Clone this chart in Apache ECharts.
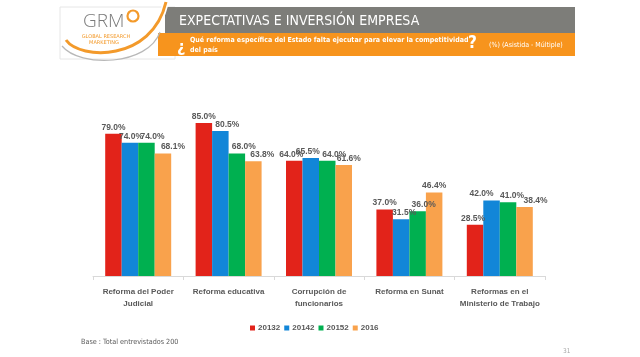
<!DOCTYPE html>
<html>
<head>
<meta charset="utf-8">
<script src="https://cdn.jsdelivr.net/npm/echarts@6/dist/echarts.min.js"></script>
<style>html,body{margin:0;padding:0;background:#fff;}#c{width:640px;height:357px;}</style>
</head>
<body>
<div id="c"></div>
<script>
const categories = ['Reforma del Poder\nJudicial', 'Reforma educativa', 'Corrupción de\nfuncionarios', 'Reforma en Sunat', 'Reformas en el\nMinisterio de Trabajo'];
const seriesNames = ['20132', '20142', '20152', '2016'];
const values2013 = [79.0, 85.0, 64.0, 37.0, 28.5];
const values2014 = [74.0, 80.5, 65.5, 31.5, 42.0];
const values2015 = [74.0, 68.0, 64.0, 36.0, 41.0];
const values2016 = [68.1, 63.8, 61.6, 46.4, 38.4];
const allValues = [values2013, values2014, values2015, values2016];

// label nudges (style only)
const labelDx = [
  [0, 0, -3, 0, -2],
  [1, 7, -3, 3, -10],
  [6, 7, 7, 6, 4],
  [10, 9, 5, 0, 11]
];
const colors = ['#e2231a', '#1286d8', '#00b050', '#f9a24c'];
const cond = "'DejaVu Sans Condensed', sans-serif";
const lib = "'Liberation Sans', Arial, sans-serif";

const chart = echarts.init(document.getElementById('c'), null, {renderer: 'canvas'});

const series = allValues.map((vals, i) => ({
  name: seriesNames[i],
  type: 'bar',
  barGap: '0%',
  barCategoryGap: '27%',
  itemStyle: {color: colors[i]},
  data: vals.map((v, j) => ({value: v, label: {offset: [labelDx[i][j], 0]}})),
  label: {
    show: true, position: 'top', distance: 2,
    formatter: p => p.value.toFixed(1) + '%',
    color: '#595959', fontWeight: 'bold', fontSize: 8.5, fontFamily: lib
  }
}));

const option = {
  backgroundColor: '#ffffff',
  animation: false,
  grid: {left: 93, right: 95, top: 96, bottom: 81},
  legend: {
    data: seriesNames, left: 245, top: 319, itemWidth: 5, itemHeight: 5, itemGap: 4,
    icon: 'rect',
    textStyle: {color: '#595959', fontWeight: 'bold', fontSize: 8, fontFamily: lib, padding: [0, 0, 0, -2]}
  },
  xAxis: {
    type: 'category', data: categories,
    axisLine: {lineStyle: {color: '#d9d9d9'}},
    axisTick: {show: true, length: 4, lineStyle: {color: '#d9d9d9'}},
    axisLabel: {color: '#595959', fontWeight: 'bold', fontSize: 8, fontFamily: lib, lineHeight: 12, margin: 10, interval: 0}
  },
  yAxis: {type: 'value', min: 0, max: 100, show: false, splitLine: {show: false}},
  series: series,
  graphic: [
    // logo box
    {type: 'rect', shape: {x: 60, y: 7, width: 115, height: 52}, style: {fill: '#ffffff', stroke: '#e6e6e6', lineWidth: 1}, z: 1},
    // gray title bar
    {type: 'rect', shape: {x: 165, y: 7, width: 410, height: 26}, style: {fill: '#7d7d79'}, z: 2},
    // orange bar
    {type: 'rect', shape: {x: 158, y: 33, width: 417, height: 23}, style: {fill: '#f7941d'}, z: 2},
    // white gap under arc
    {type: 'bezierCurve', shape: {x1: 66, y1: 40, cpx1: 80, cpy1: 62, cpx2: 152, cpy2: 64, x2: 166, y2: 2}, style: {stroke: '#ffffff', lineWidth: 6, fill: null}, z: 3},
    // arcs
    {type: 'bezierCurve', shape: {x1: 66, y1: 40, cpx1: 80, cpy1: 60, cpx2: 152, cpy2: 62, x2: 166, y2: 2}, style: {stroke: '#f39a2b', lineWidth: 3, fill: null}, z: 4},
    {type: 'bezierCurve', shape: {x1: 62, y1: 46, cpx1: 80, cpy1: 68, cpx2: 148, cpy2: 66, x2: 160, y2: 32}, style: {stroke: '#b8b8b8', lineWidth: 1.2, fill: null}, z: 4},
    // GRM text
    {type: 'text', x: 83, y: 22, style: {text: 'GRM', fill: '#7a7a7a', font: "300 19px 'Open Sans', sans-serif", textVerticalAlign: 'middle'}, z: 4},
    {type: 'circle', shape: {cx: 133, cy: 16, r: 5.5}, style: {fill: null, stroke: '#f39a2b', lineWidth: 2.2}, z: 4},
    {type: 'text', x: 106, y: 37, style: {text: 'GLOBAL RESEARCH', fill: '#f39a2b', font: "5px 'DejaVu Sans', sans-serif", textAlign: 'center', textVerticalAlign: 'middle'}, z: 4},
    {type: 'text', x: 104, y: 43, style: {text: 'MARKETING', fill: '#f39a2b', font: "5px 'DejaVu Sans', sans-serif", textAlign: 'center', textVerticalAlign: 'middle'}, z: 4},
    // title
    {type: 'text', x: 179, y: 21, style: {text: 'EXPECTATIVAS E INVERSIÓN EMPRESA', fill: '#ffffff', font: "14px " + cond, textVerticalAlign: 'middle'}, z: 5},
    // question
    {type: 'text', x: 177, y: 48, style: {text: '¿', fill: '#ffffff', font: "bold 16px " + cond, textVerticalAlign: 'middle'}, z: 5},
    {type: 'text', x: 190, y: 40, style: {text: 'Qué reforma específica del Estado falta ejecutar para elevar la competitividad', fill: '#ffffff', font: "bold 7px " + cond, textVerticalAlign: 'middle'}, z: 5},
    {type: 'text', x: 190, y: 50, style: {text: 'del país', fill: '#ffffff', font: "bold 7px " + cond, textVerticalAlign: 'middle'}, z: 5},
    {type: 'text', x: 468, y: 44, style: {text: '?', fill: '#ffffff', font: "bold 17px " + cond, textVerticalAlign: 'middle'}, z: 5},
    {type: 'text', x: 489, y: 45, style: {text: '(%) (Asistida - Múltiple)', fill: '#ffffff', font: "7px " + cond, textVerticalAlign: 'middle'}, z: 5},
    // footer
    {type: 'text', x: 81, y: 342, style: {text: 'Base : Total entrevistados 200', fill: '#595959', font: "7.2px " + cond, textVerticalAlign: 'middle'}, z: 5},
    {type: 'text', x: 563, y: 351, style: {text: '31', fill: '#a6a6a6', font: "6.5px " + cond, textVerticalAlign: 'middle'}, z: 5}
  ]
};
chart.setOption(option);
</script>
</body>
</html>
